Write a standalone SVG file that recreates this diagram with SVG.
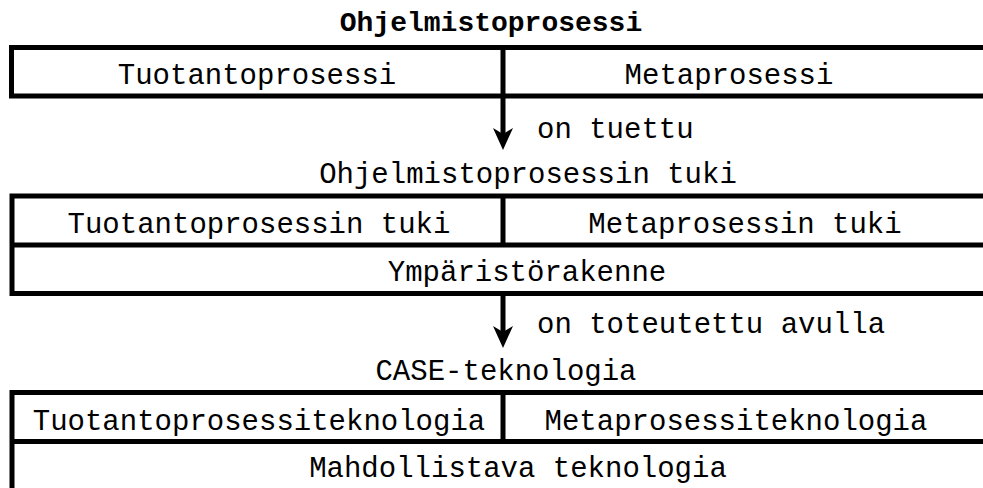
<svg xmlns="http://www.w3.org/2000/svg" width="983" height="488" viewBox="0 0 983 488">
<style>
.t{font-family:"Liberation Mono","Courier New",monospace;font-size:29px;fill:#000;}
.c{text-anchor:middle;}
.b{font-weight:bold;font-size:28px;}
.box{fill:none;stroke:#000;stroke-width:5;}
.ln{stroke:#000;stroke-width:5;fill:none;}
.hd{fill:#000;stroke:none;}
</style>
<rect width="983" height="488" fill="#fff"/>
<g id="title"><text class="t c b" x="491" y="31">Ohjelmistoprosessi</text></g>
<g id="box1">
<rect class="box" x="11.5" y="47.5" width="990" height="48.5"/>
<line class="ln" x1="503" y1="47.5" x2="503" y2="96"/>
<text class="t c" x="257" y="84">Tuotantoprosessi</text>
<text class="t c" x="729" y="84">Metaprosessi</text>
</g>
<g id="label2"><text class="t c" x="528" y="183">Ohjelmistoprosessin tuki</text></g>
<g id="box2">
<rect class="box" x="12" y="196" width="990" height="97.5"/>
<line class="ln" x1="12" y1="245" x2="1002" y2="245"/>
<line class="ln" x1="503" y1="196" x2="503" y2="245"/>
<text class="t c" x="259" y="233">Tuotantoprosessin tuki</text>
<text class="t c" x="745" y="233">Metaprosessin tuki</text>
<text class="t c" x="527" y="281">Ympäristörakenne</text>
</g>
<g id="label3"><text class="t c" x="506" y="380">CASE-teknologia</text></g>
<g id="box3">
<rect class="box" x="12" y="392.5" width="990" height="110"/>
<line class="ln" x1="12" y1="441.5" x2="1002" y2="441.5"/>
<line class="ln" x1="503" y1="392.5" x2="503" y2="441.5"/>
<text class="t c" x="259" y="430">Tuotantoprosessiteknologia</text>
<text class="t c" x="736" y="430">Metaprosessiteknologia</text>
<text class="t c" x="518" y="477">Mahdollistava teknologia</text>
</g>
<g id="connectors">
<line class="ln" x1="503" y1="96" x2="503" y2="138"/>
<path class="hd" d="M493,128 L503,134 L513,128 L503,150 Z"/>
<text class="t" x="537" y="138">on tuettu</text>
<line class="ln" x1="503" y1="293.5" x2="503" y2="336"/>
<path class="hd" d="M493,326 L503,332 L513,326 L503,348 Z"/>
<text class="t" x="537" y="333">on toteutettu avulla</text>
</g>
</svg>
